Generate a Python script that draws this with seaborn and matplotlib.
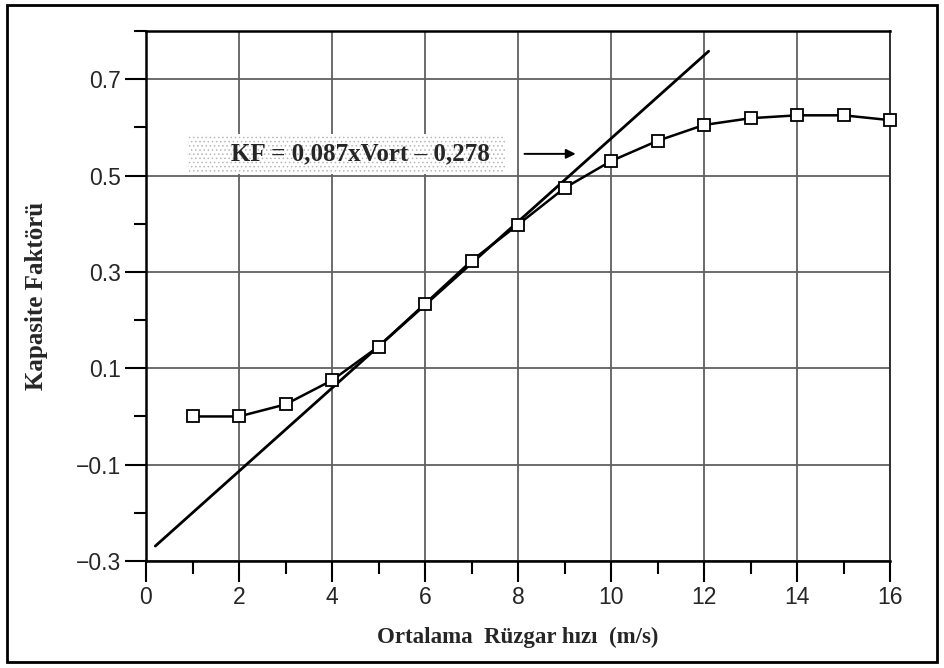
import numpy as np
import matplotlib
matplotlib.use("Agg")
import matplotlib.pyplot as plt
import matplotlib.patches as patches
import seaborn as sns

# measured capacity factor vs mean wind speed
wind_speed = [1, 2, 3, 4, 5, 6, 7, 8, 9, 10, 11, 12, 13, 14, 15, 16]
cap_factor = [0.0, 0.0, 0.025, 0.075, 0.145, 0.234, 0.323, 0.398, 0.474,
              0.530, 0.572, 0.605, 0.619, 0.625, 0.625, 0.615]

# fitted straight line (endpoints as drawn)
fit_x = [0.2, 12.1]
fit_y = [-0.269, 0.758]

eq_text = "KF = 0,087xVort \u2013 0,278"
xlab = "Ortalama  Rüzgar hızı  (m/s)"
ylab = "Kapasite Faktörü"

sns.set_style("white")
plt.rcParams['font.family'] = ['Liberation Sans', 'DejaVu Sans']
plt.rcParams['hatch.linewidth'] = 0.6

fig = plt.figure(figsize=(9.44, 6.68), dpi=100)
ax = fig.add_axes([146/944, 1-561/668, (890-146)/944, (561-31)/668])

ax.set_xlim(0, 16)
ax.set_ylim(-0.3, 0.8)
ax.set_xticks(np.arange(0, 17, 2))
ax.set_xticks(np.arange(1, 16, 2), minor=True)
ax.set_yticks([-0.3, -0.1, 0.1, 0.3, 0.5, 0.7])
ax.set_yticks([-0.2, 0.0, 0.2, 0.4, 0.6, 0.8], minor=True)
ax.set_yticklabels(["\u22120.3", "\u22120.1", "0.1", "0.3", "0.5", "0.7"])
ax.grid(True, which="major", color="#606060", lw=1.3)
ax.set_axisbelow(True)

ax.tick_params(which="both", bottom=True, left=True, top=False, right=False)
ax.tick_params(which="major", direction="out", length=15, width=1.5,
               labelsize=16.5, color="black", pad=3)
ax.tick_params(which="minor", direction="out", length=9, width=1.5, color="black")
for s in ax.spines.values():
    s.set_color("black")
    s.set_linewidth(1.8)
ax.spines["right"].set_color("#303030")
ax.spines["right"].set_linewidth(1.4)

# dotted label box
box = patches.Rectangle((0.9, 0.503), 6.82, 0.083, facecolor="white",
                        edgecolor="#b8b8b8", hatch="....", lw=0, zorder=2)
ax.add_patch(box)
ax.text(4.62, 0.545, eq_text, ha="center", va="center", fontsize=18,
        fontweight="bold", family="Liberation Serif", zorder=3)
ax.annotate("", xy=(9.3, 0.545), xytext=(8.08, 0.545),
            arrowprops=dict(arrowstyle="-|>", color="black", lw=1.4,
                            mutation_scale=14), zorder=3)

sns.lineplot(x=fit_x, y=fit_y, ax=ax, color="black", lw=2.0, zorder=4)
sns.lineplot(x=wind_speed, y=cap_factor, ax=ax, color="black", lw=1.8,
             marker="s", markersize=8.5, markerfacecolor="white",
             markeredgecolor="black", markeredgewidth=1.3, clip_on=False, zorder=5)

ax.set_xlabel(xlab, fontsize=16.5, fontweight="bold", family="Liberation Serif", labelpad=13)
ax.set_ylabel(ylab, fontsize=18, fontweight="bold", family="Liberation Serif", labelpad=20)

# outer frame around whole figure
fig.patches.append(patches.Rectangle((7/944, 1-662/668), 930/944, 657/668,
                                     transform=fig.transFigure, fill=False,
                                     edgecolor="black", lw=2))

fig.savefig("out.png", dpi=100)
